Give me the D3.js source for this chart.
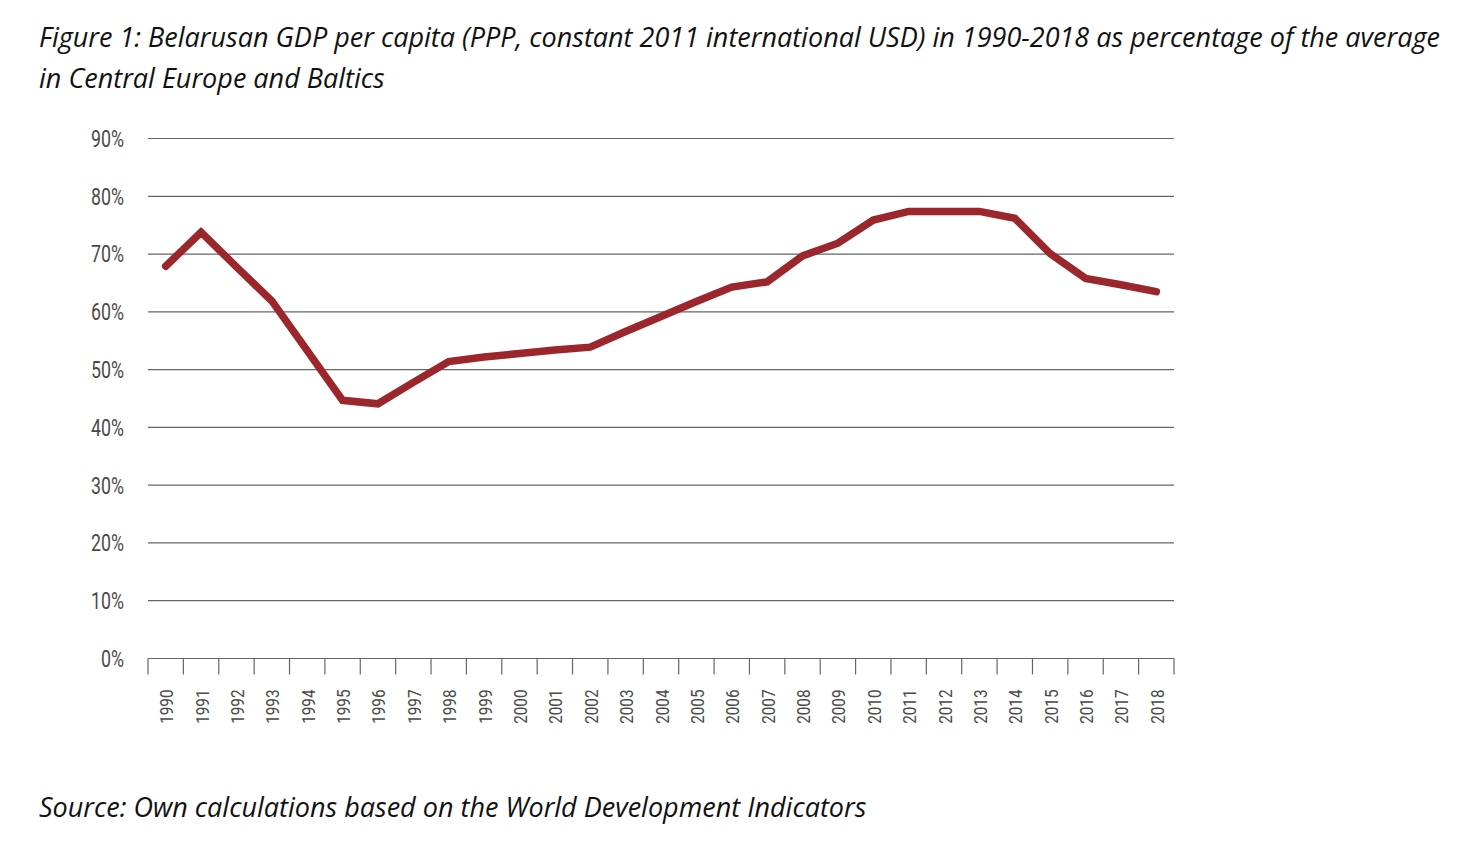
<!DOCTYPE html>
<html><head><meta charset="utf-8">
<script src="https://cdn.jsdelivr.net/npm/d3@7"></script>
<style>
body{margin:0;background:#fff;}
svg{display:block;}
.title{font-family:"Open Sans",sans-serif;font-style:italic;font-size:27px;fill:#111;}
.axis text{font-family:Roboto,"Liberation Sans",sans-serif;fill:#4a4a4a;}
</style></head><body>
<script>
const years = [1990,1991,1992,1993,1994,1995,1996,1997,1998,1999,2000,2001,2002,2003,2004,2005,2006,2007,2008,2009,2010,2011,2012,2013,2014,2015,2016,2017,2018];
const values = [67.8,73.7,67.7,61.8,53.2,44.6,44.0,47.7,51.3,52.1,52.7,53.3,53.8,56.5,59.1,61.7,64.2,65.1,69.6,71.8,75.8,77.3,77.3,77.3,76.1,70.0,65.7,64.6,63.4];
const yTicks = [0,10,20,30,40,50,60,70,80,90];

(function(){
const W=1482,H=851;
const svg=d3.select("body").append("svg").attr("width",W).attr("height",H);
const pL=148,pR=1174,pT=138,pB=658;
const x=d3.scaleBand().domain(years).range([pL,pR]).padding(0);
const y=d3.scaleLinear().domain([0,90]).range([pB,pT]);

svg.append("text").attr("class","title").attr("x",39).attr("y",47).text("Figure 1: Belarusan GDP per capita (PPP, constant 2011 international USD) in 1990-2018 as percentage of the average");
svg.append("text").attr("class","title").attr("x",39).attr("y",88).text("in Central Europe and Baltics");
svg.append("text").attr("class","title").attr("x",39).attr("y",817).text("Source: Own calculations based on the World Development Indicators");

// gridlines
svg.append("g").selectAll("line").data(yTicks.filter(d=>d>0)).join("line")
  .attr("x1",pL).attr("x2",pR).attr("y1",d=>y(d)+0.5).attr("y2",d=>y(d)+0.5)
  .attr("stroke","#666").attr("stroke-width",1.2);

// y labels
const ya=svg.append("g").attr("class","axis").attr("transform",`translate(${pL},0)`)
  .call(d3.axisLeft(y).tickValues(yTicks).tickFormat(d=>d+"%").tickSize(0));
ya.select(".domain").remove();
ya.selectAll("text").attr("font-size",24).attr("x",0).attr("dy","0.35em")
  .attr("transform","translate(-24,0) scale(0.74,1)");

// x axis
const xa=svg.append("g").attr("class","axis").attr("transform",`translate(0,${pB+0.5})`);
xa.append("line").attr("x1",pL).attr("x2",pR).attr("stroke","#666").attr("stroke-width",1.2);
const edges=years.map(d=>x(d)).concat([pR]);
xa.selectAll(".tk").data(edges).join("line").attr("class","tk")
  .attr("x1",d=>d).attr("x2",d=>d).attr("y1",0).attr("y2",16).attr("stroke","#666").attr("stroke-width",1.2);
xa.selectAll(".lbl").data(years).join("text").attr("class","lbl")
  .attr("transform",d=>`translate(${x(d)+x.bandwidth()/2+7.5},31) rotate(-90) scale(0.85,1)`)
  .attr("text-anchor","end").attr("font-size",18).text(d=>d);

// line
const line=d3.line().x((d,i)=>x(years[i])+x.bandwidth()/2).y(d=>y(d));
svg.append("path").datum(values).attr("d",line).attr("fill","none")
  .attr("stroke","#9b262b").attr("stroke-width",7.5).attr("stroke-linejoin","miter").attr("stroke-linecap","round");
})();
</script>
</body></html>
